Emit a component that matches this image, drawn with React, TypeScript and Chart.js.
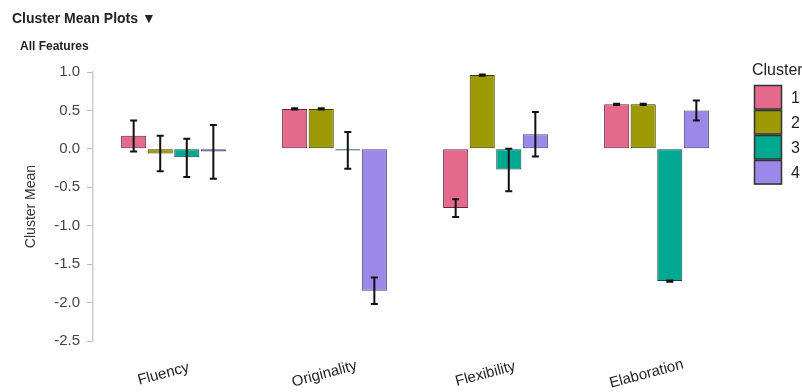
import React, { useEffect, useRef } from "react";
import { Chart, registerables } from "chart.js";

Chart.register(...registerables);

const categories = ["Fluency", "Originality", "Flexibility", "Elaboration"];
const clusterNames = ["1", "2", "3", "4"];
const clusterColors = ["#E5698C", "#9C9A00", "#00A891", "#9B88E8"];
const clusterBorders = ["#5e2b3a", "#3e3d00", "#0d4a41", "#4a4176"];

const mean1 = [0.17, 0.52, -0.77, 0.58];
const mean2 = [-0.06, 0.52, 0.96, 0.58];
const mean3 = [-0.11, -0.022, -0.27, -1.72];
const mean4 = [-0.035, -1.845, 0.19, 0.5];

const lo1 = [-0.035, 0.512, -0.885, 0.572];
const lo2 = [-0.29, 0.512, 0.952, 0.572];
const lo3 = [-0.365, -0.26, -0.55, -1.728];
const lo4 = [-0.39, -2.02, -0.1, 0.37];

const hi1 = [0.37, 0.528, -0.655, 0.588];
const hi2 = [0.17, 0.528, 0.968, 0.588];
const hi3 = [0.13, 0.22, 0.0, -1.712];
const hi4 = [0.31, -1.675, 0.48, 0.63];

const yTicks = [1.0, 0.5, 0.0, -0.5, -1.0, -1.5, -2.0, -2.5];

const FONT = "'Liberation Sans', Arial, sans-serif";

export default function App() {
  const ref = useRef<HTMLCanvasElement | null>(null);

  useEffect(() => {
    document.body.style.margin = "0";
    const canvas = ref.current;
    if (!canvas) return;
    const means = [mean1, mean2, mean3, mean4];
    const los = [lo1, lo2, lo3, lo4];
    const his = [hi1, hi2, hi3, hi4];

    const extras = {
      id: "extras",
      afterDatasetsDraw(chart: any) {
        const ctx = chart.ctx;
        const y = chart.scales.y;
        ctx.save();
        ctx.strokeStyle = "#111";
        ctx.lineWidth = 2;
        chart.data.datasets.forEach((_ds: any, di: number) => {
          const meta = chart.getDatasetMeta(di);
          meta.data.forEach((bar: any, i: number) => {
            const x = bar.x;
            const yl = y.getPixelForValue(los[di][i]);
            const yh = y.getPixelForValue(his[di][i]);
            ctx.beginPath();
            ctx.moveTo(x, yl);
            ctx.lineTo(x, yh);
            ctx.moveTo(x - 3.5, yl);
            ctx.lineTo(x + 3.5, yl);
            ctx.moveTo(x - 3.5, yh);
            ctx.lineTo(x + 3.5, yh);
            ctx.stroke();
          });
        });
        ctx.restore();
      },
      afterDraw(chart: any) {
        const ctx = chart.ctx;
        const xs = chart.scales.x;
        const area = chart.chartArea;
        ctx.save();
        // titles
        ctx.fillStyle = "#222";
        ctx.textBaseline = "alphabetic";
        ctx.textAlign = "left";
        ctx.font = `bold 14px ${FONT}`;
        ctx.fillText("Cluster Mean Plots \u25BC", 12, 23);
        ctx.font = `bold 12px ${FONT}`;
        ctx.fillText("All Features", 20, 50);
        // y axis title
        ctx.save();
        ctx.translate(31, (area.top + area.bottom) / 2);
        ctx.rotate(-Math.PI / 2);
        ctx.textAlign = "center";
        ctx.textBaseline = "middle";
        ctx.font = `14px ${FONT}`;
        ctx.fillStyle = "#333";
        ctx.fillText("Cluster Mean", 0, 0);
        ctx.restore();
        // x labels
        categories.forEach((c, i) => {
          const px = xs.getPixelForTick(i);
          ctx.save();
          ctx.translate(px - 10, 374);
          ctx.rotate((-15 * Math.PI) / 180);
          ctx.textAlign = "center";
          ctx.textBaseline = "middle";
          ctx.font = `15px ${FONT}`;
          ctx.fillStyle = "#222";
          ctx.fillText(c, 0, 0);
          ctx.restore();
        });
        // legend
        ctx.textAlign = "left";
        ctx.textBaseline = "middle";
        ctx.font = `16px ${FONT}`;
        ctx.fillStyle = "#222";
        ctx.fillText("Cluster", 752, 71);
        const bx = 754;
        const bw = 28;
        const bh = 24.5;
        let by = 85;
        chart.data.datasets.forEach((ds: any, di: number) => {
          ctx.fillStyle = ds.backgroundColor;
          ctx.fillRect(bx, by, bw, bh);
          ctx.strokeStyle = "#333";
          ctx.lineWidth = 1.5;
          ctx.strokeRect(bx + 0.5, by + 0.5, bw - 1, bh - 1);
          ctx.fillStyle = "#222";
          ctx.font = `16px ${FONT}`;
          ctx.fillText(ds.label, 791, by + bh / 2 + 1);
          by += bh + 0.5;
        });
        ctx.restore();
      },
    };

    const chart = new Chart(canvas, {
      type: "bar",
      data: {
        labels: categories,
        datasets: means.map((m, i) => ({
          label: clusterNames[i],
          data: m,
          backgroundColor: clusterColors[i],
          borderColor: clusterBorders[i],
          borderWidth: 1,
          borderSkipped: false,
          categoryPercentage: 0.66,
          barPercentage: 0.945,
        })),
      },
      options: {
        responsive: false,
        animation: false,
        events: [],
        layout: { padding: { top: 72, right: 65, left: 0, bottom: 0 } },
        plugins: {
          legend: { display: false },
          tooltip: { enabled: false },
          title: { display: false },
        },
        scales: {
          x: {
            grid: { display: false },
            border: { display: false },
            ticks: { display: false },
            afterFit: (s: any) => {
              s.height = 51;
            },
          },
          y: {
            min: -2.5,
            max: 1.0,
            afterBuildTicks: (s: any) => {
              s.ticks = yTicks.map((v) => ({ value: v }));
            },
            ticks: {
              callback: (v: any) => Number(v).toFixed(1),
              color: "#444",
              font: { size: 15, family: FONT },
              padding: 7,
            },
            grid: {
              drawOnChartArea: false,
              tickLength: 6,
              color: "#bbbbbb",
            },
            border: { color: "#cccccc", width: 1.5 },
            afterFit: (s: any) => {
              s.width = 93;
            },
          },
        },
      },
      plugins: [extras],
    });
    return () => chart.destroy();
  }, []);

  return (
    <div style={{ position: "relative", width: 802, height: 392 }}>
      <canvas ref={ref} width={802} height={392} style={{ width: 802, height: 392, display: "block" }} />
    </div>
  );
}
